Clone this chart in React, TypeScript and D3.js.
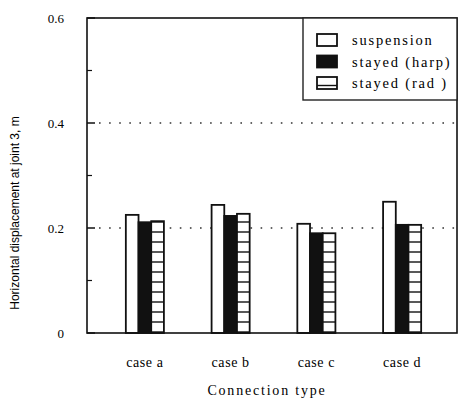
import React from 'react';
import * as d3 from 'd3';

const width = 459;
const height = 402;
const margin = { left: 87, right: 2, top: 18, bottom: 69 };
const innerW = width - margin.left - margin.right;
const innerH = height - margin.top - margin.bottom;

const cases = ['case a', 'case b', 'case c', 'case d'];
const series = ['suspension', 'stayed (harp)', 'stayed (rad )'];
const suspension = [0.225, 0.244, 0.208, 0.25];
const harp = [0.211, 0.223, 0.19, 0.206];
const rad = [0.213, 0.227, 0.19, 0.206];
const yTicks = [0, 0.2, 0.4, 0.6];
const yTickLabels = ['0', '0.2', '0.4', '0.6'];
const minorTicks = [0.1, 0.3, 0.5];
const gridTicks = [0.2, 0.4];

const values = [suspension, harp, rad];
const fills = ['#fff', '#111', 'url(#stripes)'];

const y = d3.scaleLinear().domain([0, 0.6]).range([innerH, 0]);
const x = d3.scaleBand().domain(cases).range([15, 358]).paddingInner(0.556).paddingOuter(0.278);
const xs = d3.scaleBand().domain(series).range([0, x.bandwidth()]);

export default function App() {
  return (
    <svg width={width} height={height} style={{ position: 'absolute', left: 0, top: 0, background: '#fff' }}>
      <defs>
        <pattern id="stripes" patternUnits="userSpaceOnUse" width="20" height="10" y={innerH % 10}>
          <rect width="20" height="10" fill="#fff" />
          <line x1="0" x2="20" y1="9" y2="9" stroke="#111" strokeWidth="1.4" />
        </pattern>
      </defs>
      <g transform={`translate(${margin.left},${margin.top})`}>
        {gridTicks.map(t => (
          <line key={t} x1={12} x2={innerW - 2} y1={y(t)} y2={y(t)} stroke="#333" strokeWidth={1.6} strokeDasharray="1.6,8.5" />
        ))}
        {series.map((s, si) =>
          cases.map((c, ci) => (
            <rect key={s + c} x={x(c)! + xs(s)!} y={y(values[si][ci])} width={xs.bandwidth()}
              height={innerH - y(values[si][ci])} fill={fills[si]} stroke="#111" strokeWidth={1.8} />
          ))
        )}
        {/* frame */}
        <rect x={0} y={0} width={innerW} height={innerH} fill="none" stroke="#111" strokeWidth={1.6} />
        {yTicks.map((t, i) => (
          <g key={t}>
            <line x1={0} x2={8} y1={y(t)} y2={y(t)} stroke="#111" strokeWidth={1.5} />
            <text x={-23} y={y(t)} dy="0.35em" textAnchor="end" fontFamily="Liberation Serif, serif" fontSize={13}>{yTickLabels[i]}</text>
          </g>
        ))}
        {minorTicks.map(t => (
          <line key={t} x1={0} x2={5} y1={y(t)} y2={y(t)} stroke="#111" strokeWidth={1.2} />
        ))}
        {cases.map(c => (
          <text key={c} x={x(c)! + x.bandwidth() / 2} y={innerH + 34} textAnchor="middle"
            fontFamily="Liberation Serif, serif" fontSize={14} letterSpacing={0.6}>{c}</text>
        ))}
        <text x={180} y={innerH + 62} textAnchor="middle" fontFamily="Liberation Serif, serif" fontSize={14} letterSpacing={1.8}>Connection type</text>
        <text transform={`translate(${15 - margin.left},${213 - margin.top}) rotate(-90)`} textAnchor="middle" dy="0.35em"
          fontFamily="Liberation Sans, Arial, sans-serif" fontSize={12}>Horizontal displacement at joint 3, m</text>
        {/* legend */}
        <g transform={`translate(${303 - margin.left},0)`}>
          <rect x={0} y={0} width={innerW - 216} height={82} fill="#fff" stroke="#222" strokeWidth={1.4} />
          {series.map((s, i) => (
            <g key={s} transform={`translate(14,${22 + i * 21.5})`}>
              <rect x={0} y={-6} width={20} height={12} fill={i === 1 ? '#111' : '#fff'} stroke="#111" strokeWidth={1.8} />
              {i === 2 && <line x1={0} x2={20} y1={2.5} y2={2.5} stroke="#111" strokeWidth={1.4} />}
              <text x={35} y={0} dy="0.35em" fontFamily="Liberation Serif, serif" fontSize={14.5} letterSpacing={1.8}>{s}</text>
            </g>
          ))}
        </g>
      </g>
    </svg>
  );
}
